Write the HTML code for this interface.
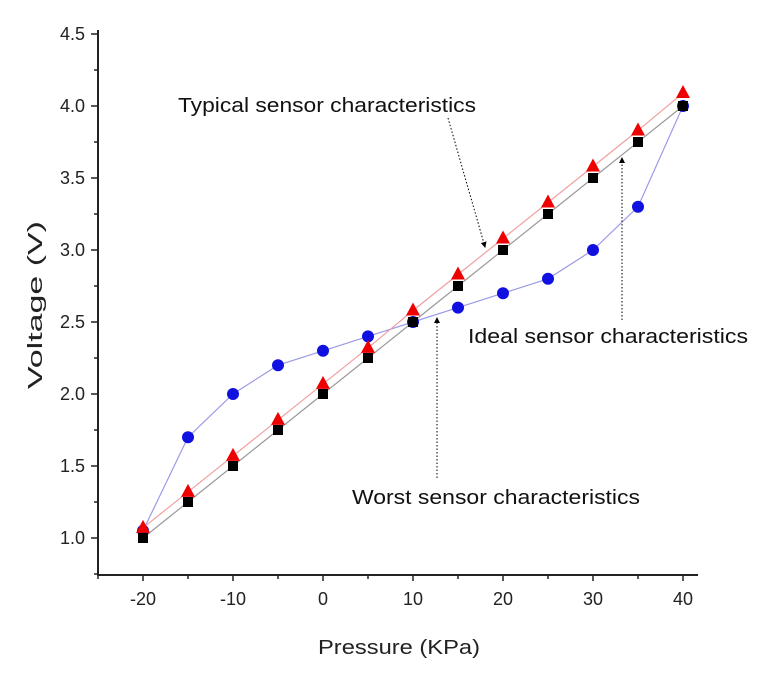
<!DOCTYPE html>
<html><head><meta charset="utf-8"><style>
body{margin:0;background:#fff;}
svg{display:block;font-family:"Liberation Sans",Arial,sans-serif;}
</style></head><body>
<svg id="c" width="760" height="677">
<defs><marker id="ah" markerWidth="6" markerHeight="6" refX="5" refY="3" orient="auto"><path d="M0,0L6,3L0,6z" fill="#000"/></marker></defs>
</svg>
<script>
const xVals=[-20,-15,-10,-5,0,5,10,15,20,25,30,35,40];
const ideal=[1.0,1.25,1.5,1.75,2.0,2.25,2.5,2.75,3.0,3.25,3.5,3.75,4.0];
const typical=[1.07,1.32,1.57,1.82,2.07,2.32,2.58,2.83,3.08,3.33,3.58,3.83,4.09];
const worst=[1.05,1.7,2.0,2.2,2.3,2.4,2.5,2.6,2.7,2.8,3.0,3.3,4.0];
const xTicks=[-20,-10,0,10,20,30,40];
const yTicks=[1.0,1.5,2.0,2.5,3.0,3.5,4.0,4.5];
const X=v=>323+9*v, Y=v=>538-144*(v-1);
const svg=document.getElementById('c'),NS='http://www.w3.org/2000/svg';
function mk(t,a,p){const e=document.createElementNS(NS,t);for(const k in a)e.setAttribute(k,a[k]);(p||svg).appendChild(e);return e;}
let e;
e=mk('line',{x1:98,y1:575,x2:698,y2:575,stroke:'#222','stroke-width':2});


e=mk('line',{x1:98,y1:30,x2:98,y2:576,stroke:'#222','stroke-width':2});


for(let v=-25;v<=40;v+=5){const major=v%10===0;mk('line',{x1:X(v),y1:575,x2:X(v),y2:575+(major?6:4),stroke:'#222','stroke-width':1.5});}
xTicks.forEach(v=>{e=mk('text',{x:X(v),y:605,'text-anchor':'middle','font-size':18,fill:'#222'});e.textContent=v;

});
for(let v=0.75;v<=4.5;v+=0.25){mk('line',{x1:98,y1:Y(v),x2:(v*2)%1===0?91:94,y2:Y(v),stroke:'#222','stroke-width':1.5});}
yTicks.forEach(v=>{e=mk('text',{x:85,y:Y(v)+6,'text-anchor':'end','font-size':18,fill:'#222'});e.textContent=v.toFixed(1);

});
e=mk('text',{x:318,y:654,'font-size':20,fill:'#222',textLength:162,lengthAdjust:'spacingAndGlyphs'});e.textContent='Pressure (KPa)';


e=mk('text',{x:0,y:0,'font-size':20,fill:'#222',textLength:168,lengthAdjust:'spacingAndGlyphs',transform:'translate(42,389) rotate(-90)'});e.textContent='Voltage (V)';


function line(d,c,n){const p=xVals.map((x,i)=>X(x)+','+Y(d[i])).join(' ');e=mk('polyline',{points:p,fill:'none',stroke:c,'stroke-width':1.2});

}
line(worst,'#9b9be8','worst-line');line(typical,'#f0a0a0','typical-line');line(ideal,'#999','ideal-line');
xVals.forEach((x,i)=>{e=mk('circle',{cx:X(x),cy:Y(worst[i]),r:6,fill:'#1010e0'});

});
xVals.forEach((x,i)=>{e=mk('rect',{x:X(x)-5,y:Y(ideal[i])-5,width:10,height:10,fill:'#000'});

});
xVals.forEach((x,i)=>{const cx=X(x),cy=Y(typical[i]);e=mk('polygon',{points:`${cx},${cy-8} ${cx-7},${cy+5} ${cx+7},${cy+5}`,fill:'#e00'});

});
function ann(t,tx,ty,w,x1,y1,x2,y2,n){e=mk('text',{x:tx,y:ty,'font-size':20,fill:'#111',textLength:w,lengthAdjust:'spacingAndGlyphs'});e.textContent=t;


mk('line',{x1,y1,x2,y2,stroke:'#000','stroke-width':1,'stroke-dasharray':'1.5,2','marker-end':'url(#ah)'});}
ann('Typical sensor characteristics',178,112,298,448,118,485,247,'typical-annotation');
ann('Ideal sensor characteristics',468,343,280,622,320,622,158,'ideal-annotation');
ann('Worst sensor characteristics',352,504,288,437,478,437,318,'worst-annotation');
</script>
</body></html>
